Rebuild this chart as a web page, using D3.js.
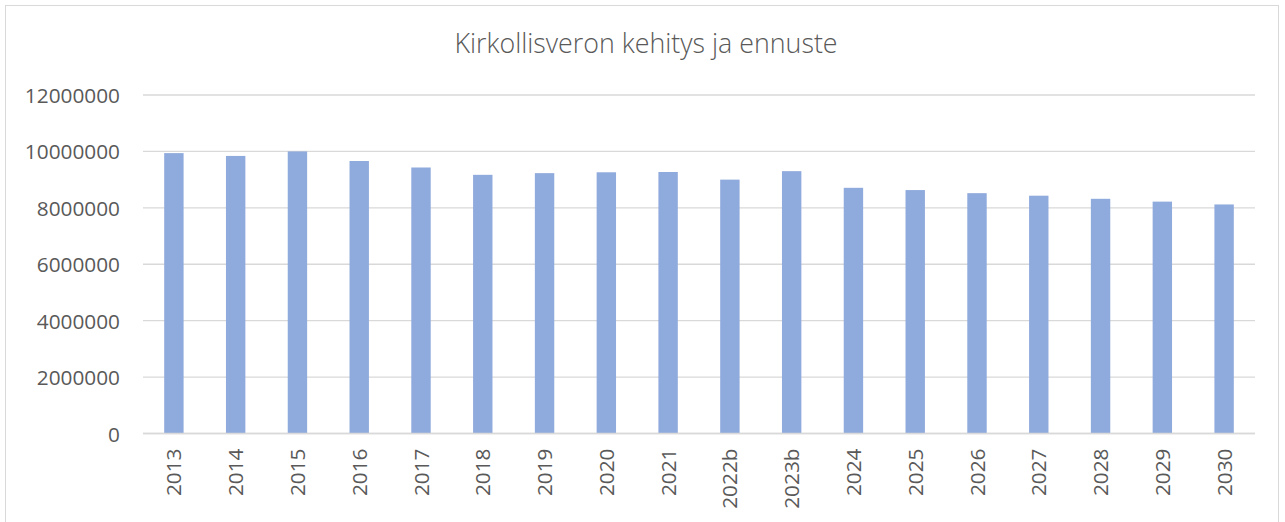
<!DOCTYPE html>
<meta charset="utf-8">
<style>
  body { margin: 0; background: #fff; }
  text { font-family: "Open Sans", sans-serif; fill: #595959; }
  .grid line { stroke: #d9d9d9; stroke-width: 1.3px; }
  .bars rect { fill: #8faadc; }
</style>
<svg width="1285" height="522"></svg>
<script src="https://d3js.org/d3.v7.min.js"></script>
<script>
  // data
  var years = ["2013", "2014", "2015", "2016", "2017", "2018", "2019", "2020", "2021",
    "2022b", "2023b", "2024", "2025", "2026", "2027", "2028", "2029", "2030"];
  var tax = [9940000, 9840000, 10000000, 9660000, 9430000, 9170000, 9230000, 9260000, 9270000,
    9000000, 9300000, 8710000, 8630000, 8520000, 8430000, 8320000, 8220000, 8120000];
  var yTicks = [0, 2000000, 4000000, 6000000, 8000000, 10000000, 12000000];
  var title = "Kirkollisveron kehitys ja ennuste";

  var svg = d3.select("svg"),
    width = +svg.attr("width"),
    height = +svg.attr("height");

  var plotLeft = 143, plotRight = 1255, plotTop = 95, plotBottom = 433.5;

  // chart frame
  svg.append("rect")
    .attr("x", 5.5).attr("y", 5.5)
    .attr("width", 1273).attr("height", 530)
    .attr("fill", "none")
    .attr("stroke", "#d9d9d9");

  var x = d3.scaleBand()
    .domain(years)
    .range([plotLeft, plotRight])
    .paddingInner(0.686)
    .paddingOuter(0.343);

  var y = d3.scaleLinear()
    .domain([0, 12000000])
    .range([plotBottom, plotTop]);

  // gridlines
  svg.append("g")
    .attr("class", "grid")
    .selectAll("line")
    .data(yTicks)
    .enter().append("line")
    .attr("x1", plotLeft).attr("x2", plotRight)
    .attr("y1", function(d) { return y(d); })
    .attr("y2", function(d) { return y(d); });

  // bars
  svg.append("g")
    .attr("class", "bars")
    .selectAll("rect")
    .data(tax)
    .enter().append("rect")
    .attr("x", function(d, i) { return x(years[i]); })
    .attr("width", x.bandwidth())
    .attr("y", function(d) { return y(d); })
    .attr("height", function(d) { return plotBottom - y(d); });

  // baseline over the bars
  svg.append("line")
    .attr("x1", plotLeft).attr("x2", plotRight)
    .attr("y1", y(0)).attr("y2", y(0))
    .attr("stroke", "#d9d9d9").attr("stroke-width", 1.3);

  // y axis labels
  var yAxis = d3.axisLeft(y).tickValues(yTicks).tickSize(0).tickPadding(0)
    .tickFormat(d3.format("d"));
  var gy = svg.append("g").attr("transform", "translate(120,0)").call(yAxis);
  gy.select(".domain").remove();
  gy.selectAll("text")
    .attr("font-size", "20.8px")
    .attr("font-family", "'Open Sans', sans-serif")
    .attr("fill", "#595959")
    .attr("dy", "0.36em");

  // x axis labels, rotated
  var xAxis = d3.axisBottom(x).tickSize(0).tickPadding(0);
  var gx = svg.append("g").attr("transform", "translate(0," + plotBottom + ")").call(xAxis);
  gx.select(".domain").remove();
  gx.selectAll("text")
    .attr("font-size", "20.8px")
    .attr("font-family", "'Open Sans', sans-serif")
    .attr("fill", "#595959")
    .attr("text-anchor", "end")
    .attr("transform", "rotate(-90)")
    .attr("x", -15)
    .attr("y", 0)
    .attr("dy", "0.36em");

  // title
  svg.append("text")
    .attr("x", 646)
    .attr("y", 53)
    .attr("text-anchor", "middle")
    .attr("font-size", "26.8px")
    .attr("font-weight", 300)
    .text(title);
</script>
